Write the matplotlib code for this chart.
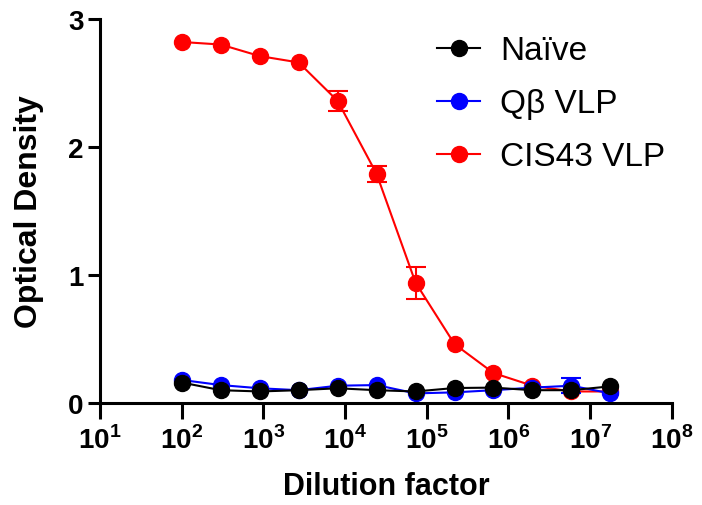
import numpy as np
import matplotlib
matplotlib.use('Agg')
from matplotlib import pyplot as plt

plt.rcParams['font.family'] = ['Liberation Sans', 'DejaVu Sans']
plt.rcParams['mathtext.fontset'] = 'custom'
plt.rcParams['mathtext.rm'] = 'Liberation Sans:bold'
plt.rcParams['mathtext.bf'] = 'Liberation Sans:bold'

#3-fold serial dilutions
dilution = [100, 300, 900, 2700, 8100, 24300, 72900, 218700, 656100, 1968300, 5904900, 17714700]

naive = [0.16, 0.10, 0.09, 0.10, 0.115, 0.10, 0.09, 0.117, 0.12, 0.10, 0.10, 0.13]
naive_err = [0, 0, 0, 0, 0, 0, 0, 0, 0, 0, 0, 0]

qb = [0.18, 0.14, 0.115, 0.10, 0.135, 0.14, 0.075, 0.083, 0.10, 0.12, 0.135, 0.075]
qb_err = [0, 0, 0, 0, 0, 0, 0, 0, 0, 0, 0.06, 0]

cis43 = [2.82, 2.80, 2.71, 2.66, 2.36, 1.79, 0.94, 0.46, 0.234, 0.135, 0.09, 0.09]
cis43_err = [0, 0, 0, 0, 0.08, 0.06, 0.125, 0, 0, 0, 0, 0]

xticks = [1e1, 1e2, 1e3, 1e4, 1e5, 1e6, 1e7, 1e8]
xticklabels = [r'$10^{%d}$' % i for i in range(1, 9)]

fig = plt.figure(figsize=(7.02, 5.06), dpi=100)
ax = fig.add_axes([0.1425, 0.2016, 0.8145, 0.759])

series = [('CIS43 VLP', cis43, cis43_err, '#ff0000'),
          ('Q\u03b2 VLP', qb, qb_err, '#0000ff'),
          ('Na\u00efve', naive, naive_err, '#000000')]
handles = {}
for name, y, err, col in series:
    #error bars only where the spread is visible
    idx = [i for i in range(len(err)) if err[i] > 0]
    if idx:
        ax.errorbar([dilution[i] for i in idx], [y[i] for i in idx], yerr=[err[i] for i in idx],
                    fmt='none', ecolor=col, capsize=7, capthick=1.5, elinewidth=1.5, clip_on=False)
    h, = ax.plot(dilution, y, color=col, marker='o', markersize=11.5, linewidth=1.5,
                 label=name, clip_on=False)
    handles[name] = h

ax.set_xscale('log')
ax.set_xlim(1e1, 1e8)
ax.set_ylim(0, 3)
ax.set_xticks(xticks)
ax.set_xticklabels(xticklabels, fontsize=20)
ax.xaxis.set_minor_locator(matplotlib.ticker.NullLocator())
ax.set_yticks([0, 1, 2, 3])
ax.set_yticklabels(['0', '1', '2', '3'], fontsize=20, fontweight='bold')

ax.spines['top'].set_visible(False)
ax.spines['right'].set_visible(False)
ax.spines['left'].set_linewidth(2.2)
ax.spines['bottom'].set_linewidth(2.2)
ax.tick_params(axis='x', direction='out', length=11.5, width=2.2, pad=5)
ax.tick_params(axis='y', direction='out', length=9, width=2.2, pad=3)

ax.set_xlabel('Dilution factor', fontsize=22, fontweight='bold', labelpad=12)
ax.set_ylabel('Optical Density', fontsize=23, fontweight='bold', labelpad=17)

order = ['Na\u00efve', 'Q\u03b2 VLP', 'CIS43 VLP']
ax.legend([handles[k] for k in order], order, loc='upper left', bbox_to_anchor=(0.537, 1.035),
          frameon=False, fontsize=24, handlelength=1.3, handletextpad=0.6, labelspacing=0.66)

plt.savefig('out.png', dpi=100)
